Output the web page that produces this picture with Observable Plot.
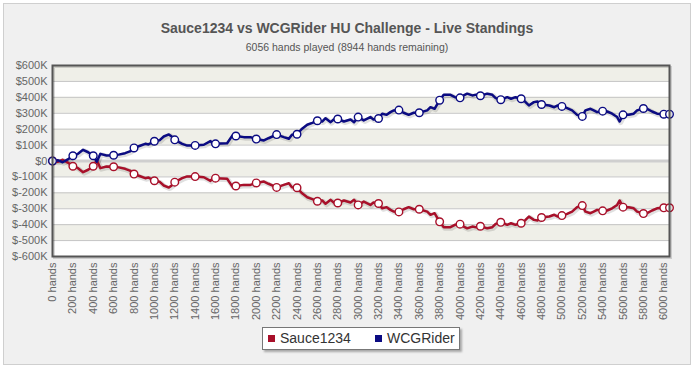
<!DOCTYPE html>
<html>
<head>
<meta charset="utf-8">
<script src="https://cdn.jsdelivr.net/npm/d3@7"></script>
<script src="https://cdn.jsdelivr.net/npm/@observablehq/plot@0.6"></script>
<style>
  html, body { margin: 0; padding: 0; background: #fff; }
  body { width: 694px; height: 367px; position: relative; overflow: hidden; font-family: "Liberation Sans", Arial, sans-serif; }
  #frame { position: absolute; left: 3px; top: 3px; width: 686px; height: 360px; background: #f0f0f0; border: 1px solid #cfcfcf; }
  #title { position: absolute; left: 0; width: 694px; top: 20px; text-align: center; font-size: 14px; font-weight: bold; color: #555; }
  #subtitle { position: absolute; left: 0; width: 694px; top: 41px; text-align: center; font-size: 10.5px; color: #555; }
  #chart { position: absolute; left: 0; top: 55px; }
  #legend { position: absolute; left: 262px; top: 327px; width: 196px; height: 21px; background: #fff; border: 1px solid #777; box-shadow: 2px 2px 2px rgba(0,0,0,0.3); font-size: 14px; color: #333; }
  .item { position: absolute; top: 2px; white-space: nowrap; }
  .sw { display: inline-block; width: 7px; height: 7px; margin-right: 5px; vertical-align: 1px; }
</style>
</head>
<body>
<div id="frame"></div>
<div id="title">Sauce1234 vs WCGRider HU Challenge - Live Standings</div>
<div id="subtitle">6056 hands played (8944 hands remaining)</div>
<div id="chart"></div>
<div id="legend"></div>
<script>
// ---- data (values in $K) ----
const hands = [0,50,100,150,200,250,300,350,400,435,
  470,530,600,650,713,760,800,860,910,942,
  1000,1050,1092,1142,1170,1200,1273,1322,1400,1485,
  1550,1575,1600,1714,1763,1800,1877,1943,2000,2075,
  2120,2200,2270,2320,2350,2400,2450,2500,2550,2600,
  2647,2680,2730,2760,2800,2860,2925,2960,3000,3055,
  3120,3150,3200,3236,3280,3317,3350,3400,3446,3496,
  3545,3600,3678,3710,3750,3800,3840,3906,3950,4000,
  4036,4070,4120,4160,4200,4267,4317,4350,4400,4463,
  4500,4545,4600,4643,4676,4725,4760,4800,4876,4925,
  4960,5000,5051,5100,5149,5200,5231,5280,5312,5345,
  5400,5444,5493,5542,5567,5600,5656,5705,5738,5800,
  5836,5885,5934,6000,6056];
const wcgRider = [0,5,-8,10,33,45,70,55,33,-5,
  45,35,36,40,49,60,82,96,108,104,
  124,130,154,167,154,133,108,97,98,102,
  125,108,108,112,158,157,150,150,138,129,
  143,166,150,140,165,168,203,228,240,253,
  248,269,244,261,264,248,261,244,276,255,
  276,261,267,297,290,307,318,320,303,290,
  303,303,318,338,328,382,416,416,401,397,
  412,423,412,417,410,423,416,395,385,401,
  391,401,391,370,349,370,374,355,349,338,
  349,343,332,318,290,280,318,328,318,307,
  313,311,297,276,248,290,290,297,318,330,
  328,311,297,294,294];
const sauce1234 = [0,-5,8,-10,-33,-45,-70,-55,-33,5,
  -45,-35,-36,-40,-49,-60,-82,-96,-108,-104,
  -124,-130,-154,-167,-154,-133,-108,-97,-98,-102,
  -125,-108,-108,-112,-158,-157,-150,-150,-138,-129,
  -143,-166,-150,-140,-165,-168,-203,-228,-240,-253,
  -248,-269,-244,-261,-264,-248,-261,-244,-276,-255,
  -276,-261,-267,-297,-290,-307,-318,-320,-303,-290,
  -303,-303,-318,-338,-328,-382,-416,-416,-401,-397,
  -412,-423,-412,-417,-410,-423,-416,-395,-385,-401,
  -391,-401,-391,-370,-349,-370,-374,-355,-349,-338,
  -349,-343,-332,-318,-290,-280,-318,-328,-318,-307,
  -313,-311,-297,-276,-248,-290,-290,-297,-318,-330,
  -328,-311,-297,-294,-294];
const seriesNames = ["Sauce1234", "WCGRider"];
const seriesColors = ["#a8102a", "#0b0b82"];
const xTicks = [0,200,400,600,800,1000,1200,1400,1600,1800,2000,2200,2400,2600,2800,3000,3200,3400,3600,3800,4000,4200,4400,4600,4800,5000,5200,5400,5600,5800,6000];
const yTicks = [-600,-500,-400,-300,-200,-100,0,100,200,300,400,500,600];
const bandStarts = [-500,-300,-100,100,300,500];
const handsTotal = 6056;

const rows = [];
hands.forEach((h, i) => {
  rows.push({series: seriesNames[0], h, v: sauce1234[i]});
  rows.push({series: seriesNames[1], h, v: wcgRider[i]});
});
const markerRows = rows.filter(d => d.h % 200 === 0 || d.h === handsTotal);
const bands = bandStarts.map(s => ({y1: s, y2: s + 100}));

const colorScale = {domain: seriesNames, range: seriesColors};

const chart = Plot.plot({
  width: 694,
  height: 270,
  marginLeft: 52,
  marginRight: 25,
  marginTop: 10,
  marginBottom: 69,
  style: {fontFamily: '"Liberation Sans", Arial, sans-serif', fontSize: "11px", color: "#666", background: "transparent", overflow: "visible"},
  x: {domain: [0, handsTotal], label: null},
  y: {domain: [-600, 600], label: null},
  color: colorScale,
  marks: [
    Plot.rect([{}], {x1: () => 0, x2: () => handsTotal, y1: () => -600, y2: () => 600, fill: "#fff"}),
    Plot.rect(bands, {x1: () => 0, x2: () => handsTotal, y1: "y1", y2: "y2", fill: "#efefe8"}),
    Plot.ruleY(yTicks, {stroke: "#c4c4c4", strokeWidth: 1}),
    Plot.ruleY([0], {stroke: "#cfcfcf", strokeWidth: 3}),
    Plot.axisY(yTicks, {label: null, tickSize: 0, tickPadding: 5, tickFormat: d => "$" + (d === 0 ? "0" : d + "K"), fill: "#666", fontSize: 11}),
    Plot.axisX(xTicks, {label: null, tickSize: 0, tickPadding: 6, tickRotate: -90, tickFormat: d => d + " hands", fill: "#666", fontSize: 11}),
    Plot.line(rows, {x: "h", y: "v", z: "series", stroke: "#000", strokeOpacity: 0.12, strokeWidth: 5, dx: 1, dy: 1}),
    Plot.line(rows, {x: "h", y: "v", z: "series", stroke: "series", strokeWidth: 2.5}),
    Plot.dot(markerRows, {x: "h", y: "v", stroke: "series", fill: "#fff", r: 3.8, strokeWidth: 1.4}),
    Plot.frame({stroke: "#000", strokeOpacity: 0.15, strokeWidth: 2, dx: 1.5, dy: 1.5}),
    Plot.frame({stroke: "#555", strokeWidth: 2})
  ]
});
document.getElementById("chart").appendChild(chart);

const legend = document.getElementById("legend");
const xs = [5, 112];
seriesNames.forEach((name, i) => {
  const it = document.createElement("div");
  it.className = "item";
  it.style.left = xs[i] + "px";
  const sw = document.createElement("span");
  sw.className = "sw";
  sw.style.background = seriesColors[i];
  it.appendChild(sw);
  it.appendChild(document.createTextNode(name));
  legend.appendChild(it);
});
</script>
</body>
</html>
